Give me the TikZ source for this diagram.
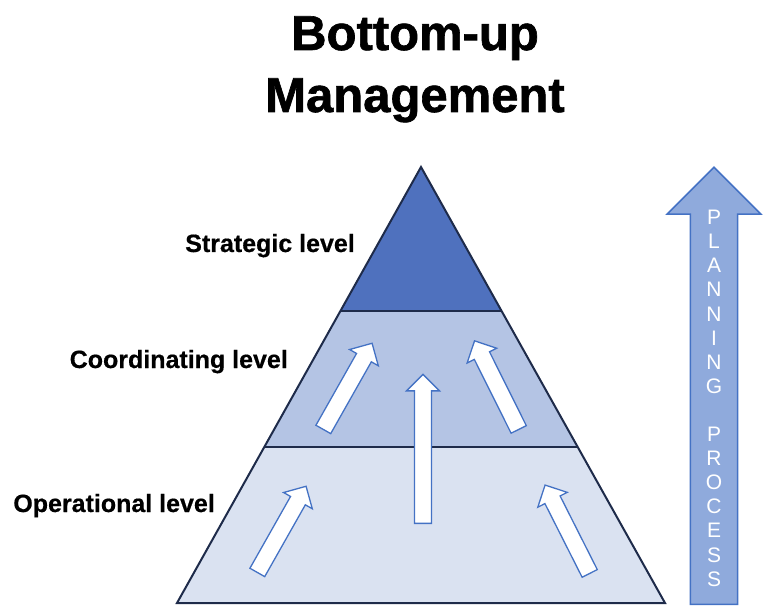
\documentclass[tikz,border=0pt]{standalone}
\usepackage{fontspec}
\setmainfont{Liberation Sans}
\newfontfamily\titlefont{Liberation Sans Bold}[FakeBold=1.3]
\newfontfamily\levelfont{Liberation Sans Bold}[FakeBold=0.5]
\usepackage{tikz}
\usetikzlibrary{positioning,calc,shapes.arrows}

\definecolor{topblue}{HTML}{4F71BE}
\definecolor{midblue}{HTML}{B4C4E4}
\definecolor{lowblue}{HTML}{DAE2F1}
\definecolor{edgeblue}{HTML}{4472C4}
\definecolor{bigblue}{HTML}{8FAADC}
\definecolor{navy}{HTML}{1E2B4A}

\begin{document}
\begin{tikzpicture}[
		x=1pt, y=-1pt,
		levelnode/.style={anchor=base east, inner sep=0, font=\fontsize{25}{30}\selectfont\levelfont},
		titlenode/.style={anchor=base, inner sep=0, font=\fontsize{49}{62}\selectfont\titlefont},
		uparrow/.style={single arrow, anchor=tail, draw=edgeblue, fill=white, line width=1.3pt, inner xsep=0pt, inner ysep=7.85pt,
			single arrow head extend=8pt, single arrow tip angle=90, minimum height=99pt},
	]
	\useasboundingbox (0,0) rectangle (768,612);

	%Pyramid
	\coordinate (apex) at (421,167);
	\coordinate (bl) at (177,603);
	\coordinate (br) at (665,603);
	\coordinate (l1) at ($(apex)!0.3303!(bl)$);
	\coordinate (r1) at ($(apex)!0.3303!(br)$);
	\coordinate (l2) at ($(apex)!0.6422!(bl)$);
	\coordinate (r2) at ($(apex)!0.6422!(br)$);
	\fill[lowblue] (l2) -- (bl) -- (br) -- (r2) -- cycle;
	\fill[midblue] (l1) -- (l2) -- (r2) -- (r1) -- cycle;
	\fill[topblue] (apex) -- (l1) -- (r1) -- cycle;
	\draw[navy, line width=1.5pt] (l1) -- (r1);
	\draw[navy, line width=1.5pt] (l2) -- (r2);
	\draw[navy, line width=2pt, line join=miter] (apex) -- (bl) -- (br) -- cycle;

	%Title
	\node[titlenode] (title) at (415,50) {Bottom-up};
	\node[titlenode] (title2) at (415,112) {Management};

	%Levels
	\node[levelnode] (strategic) at (355,252) {Strategic level};
	\node[levelnode] (coordinating) at (288,368) {Coordinating level};
	\node[levelnode] (operational) at (215,512) {Operational level};

	%Arrows
	\node[uparrow, rotate=60.5] (a1) at (323,430) {};
	\node[uparrow, rotate=116.5] (a2) at (519,430) {};
	\node[uparrow, rotate=90, minimum height=149pt] (a3) at (423,524) {};
	\node[uparrow, rotate=60.5] (a4) at (257,573) {};
	\node[uparrow, rotate=116.8] (a5) at (590,574) {};

	%Planning process
	\node[single arrow, anchor=tail, draw=edgeblue, fill=bigblue, line width=1.5pt, inner xsep=0pt, inner ysep=22.8pt,
		single arrow head extend=23.2pt, single arrow tip angle=90, minimum height=437pt,
		rotate=90] (planning) at (714,605) {};
	\node[anchor=north, inner sep=0, text=white, align=center, font=\fontsize{21}{24.1}\selectfont]
		(process) at (714,210) {P\\L\\A\\N\\N\\I\\N\\G\\[24.1pt]P\\R\\O\\C\\E\\S\\S};

\end{tikzpicture}
\end{document}
